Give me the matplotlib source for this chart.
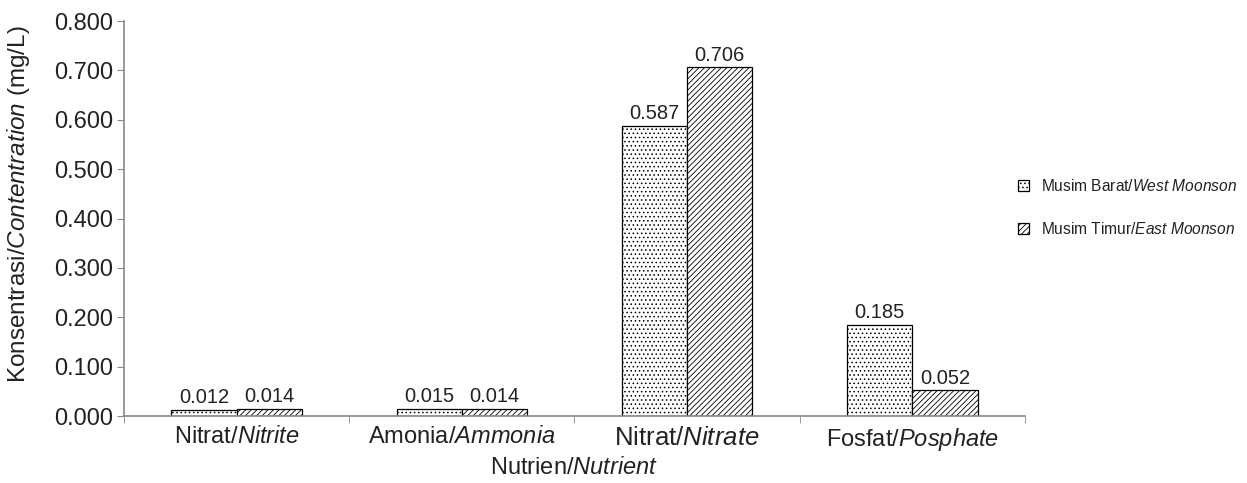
import matplotlib
matplotlib.use("Agg")
import matplotlib.pyplot as plt
import numpy as np

plt.rcParams["font.family"] = ["Liberation Sans", "DejaVu Sans"]
plt.rcParams["mathtext.fontset"] = "custom"
plt.rcParams["mathtext.rm"] = "Liberation Sans"
plt.rcParams["mathtext.it"] = "Liberation Sans:italic"
plt.rcParams["hatch.linewidth"] = 0.6
plt.rcParams["text.color"] = "#222222"

# data
kategori = [r"Nitrat/$\mathit{Nitrite}$", r"Amonia/$\mathit{Ammonia}$",
            r"Nitrat/$\mathit{Nitrate}$", r"Fosfat/$\mathit{Posphate}$"]
musim_barat = [0.012, 0.015, 0.587, 0.185]
musim_timur = [0.014, 0.014, 0.706, 0.052]
y_ticks = [0.0, 0.1, 0.2, 0.3, 0.4, 0.5, 0.6, 0.7, 0.8]

fig = plt.figure(figsize=(12.47, 4.83), dpi=100)
ax = fig.add_axes([0.0994, 0.1387, 0.7226, 0.8178])

x = np.arange(len(kategori))
w = 0.29
b1 = ax.bar(x - w / 2, musim_barat, w, color="white", edgecolor="black",
            hatch="....", linewidth=0.9, label=r"Musim Barat/$\mathit{West\ Moonson}$")
b2 = ax.bar(x + w / 2, musim_timur, w, color="white", edgecolor="black",
            hatch="//////", linewidth=0.9, label=r"Musim Timur/$\mathit{East\ Moonson}$")
ax.bar_label(b1, fmt="%.3f", padding=2, fontsize=14.5, color="#222222")
ax.bar_label(b2, fmt="%.3f", padding=2, fontsize=14.5, color="#222222")

ax.set_xlim(-0.5, 3.5)
ax.set_ylim(0, 0.8)
ax.set_yticks(y_ticks)
ax.set_yticklabels([f"{v:.3f}" for v in y_ticks], fontsize=17, color="#222222")
ax.set_xticks(x)
ax.set_xticklabels(kategori, fontsize=17, color="#222222")
ax.get_xticklabels()[2].set_fontsize(18.5)
ax.set_xticks(np.arange(-0.5, 3.6, 1), minor=True)
ax.tick_params(axis="x", which="major", length=0, pad=7)
ax.tick_params(axis="x", which="minor", length=5, color="#888888", direction="out")
ax.tick_params(axis="y", length=5, color="#888888", pad=3)

for s in ["top", "right"]:
    ax.spines[s].set_visible(False)
for s in ["left", "bottom"]:
    ax.spines[s].set_color("#888888")
    ax.spines[s].set_linewidth(1.2)

ax.set_ylabel(r"Konsentrasi/$\mathit{Contentration}$ (mg/L)", fontsize=17.5, color="#222222")
ax.yaxis.set_label_coords(-0.102, 0.535)
ax.set_xlabel(r"Nutrien/$\mathit{Nutrient}$", fontsize=17, color="#222222", labelpad=3)

leg = fig.legend(loc="center left", bbox_to_anchor=(0.805, 0.57), frameon=False,
                 fontsize=11.2, handlelength=0.7, handleheight=0.7,
                 labelspacing=1.75, handletextpad=0.8)

plt.savefig("out.png", dpi=100)
